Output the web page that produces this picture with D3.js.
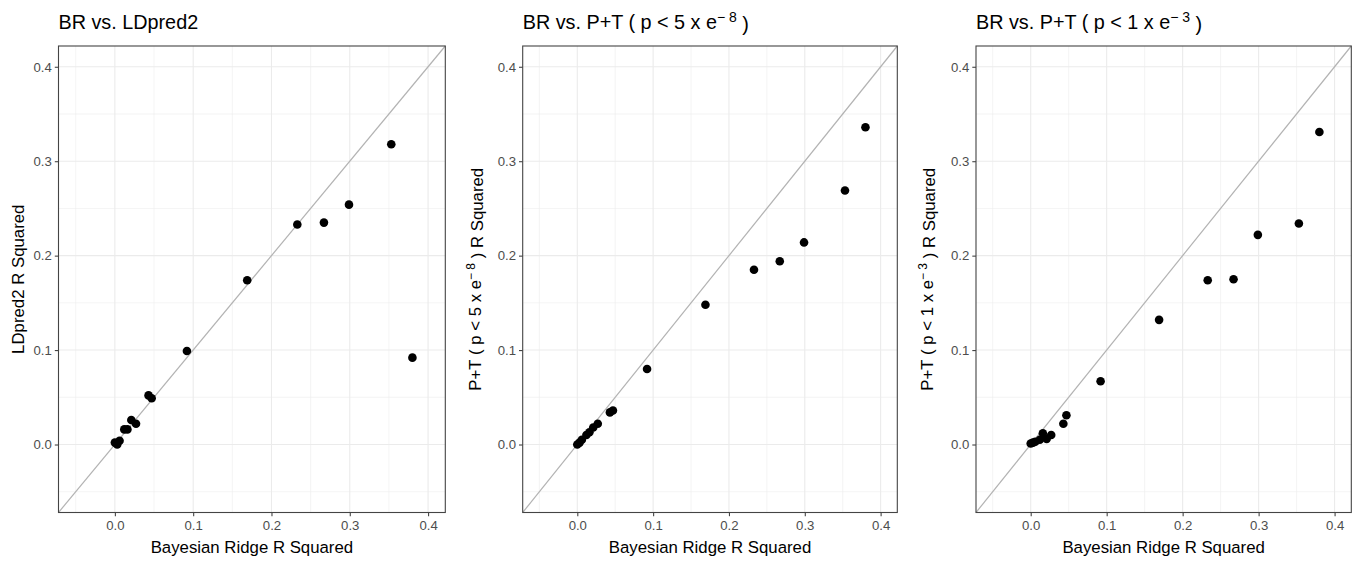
<!DOCTYPE html>
<html>
<head>
<meta charset="utf-8">
<script src="https://cdn.jsdelivr.net/npm/d3@7"></script>
<style>
	body { margin: 0; background: #fff; }
	svg { font-family: "Liberation Sans", Arial, sans-serif; }
</style>
</head>
<body>
<div id="chart"></div>
<script>
// Bayesian ridge R squared (x for every panel)
var brR2 = [0.000, 0.003, 0.006, 0.012, 0.016, 0.021, 0.027, 0.043, 0.047, 0.092, 0.169, 0.233, 0.267, 0.299, 0.353, 0.380];
var ldpred2R2 = [0.002, 0.000, 0.004, 0.016, 0.016, 0.026, 0.022, 0.052, 0.049, 0.099, 0.174, 0.233, 0.235, 0.254, 0.318, 0.092];
var pt8R2 = [0.000, 0.002, 0.005, 0.010, 0.013, 0.018, 0.022, 0.034, 0.036, 0.080, 0.148, 0.185, 0.194, 0.214, 0.269, 0.336];
var pt3R2 = [0.001, 0.002, 0.003, 0.005, 0.012, 0.006, 0.010, 0.022, 0.031, 0.067, 0.132, 0.174, 0.175, 0.222, 0.234, 0.331];

var tickValues = [0.0, 0.1, 0.2, 0.3, 0.4];
var minorTicks = [-0.05, 0.05, 0.15, 0.25, 0.35];
var axisLimits = [-0.072, 0.422];
var xTitle = "Bayesian Ridge R Squared";

// title parts: [before superscript, superscript, after]
var panels = [
	{ title: ["BR vs. LDpred2", "", ""], ytitle: ["LDpred2 R Squared", "", ""], y: ldpred2R2,
	  left: 58.5, right: 445.3, ytx: 23.5 },
	{ title: ["BR vs. P+T ( p < 5 x e", "\u2212 8", " )"], ytitle: ["P+T ( p < 5 x e", "\u2212 8", " ) R Squared"], y: pt8R2,
	  left: 522.7, right: 897.3, ytx: 481 },
	{ title: ["BR vs. P+T ( p < 1 x e", "\u2212 3", " )"], ytitle: ["P+T ( p < 1 x e", "\u2212 3", " ) R Squared"], y: pt3R2,
	  left: 976, right: 1351.3, ytx: 933 }
];

var width = 1358, height = 562;
var plotTop = 46, plotBottom = 512.5;

var svg = d3.select("#chart").append("svg")
	.attr("width", width)
	.attr("height", height);

function addMathText(sel, parts, supSize) {
	sel.append("tspan").text(parts[0]);
	if (parts[1]) {
		sel.append("tspan").attr("dy", "-0.5em").attr("font-size", supSize).text(parts[1]);
		sel.append("tspan").attr("dy", "0.5em").text(parts[2]);
	}
}

panels.forEach(function(p) {
	var x = d3.scaleLinear().domain(axisLimits).range([p.left, p.right]);
	var y = d3.scaleLinear().domain(axisLimits).range([plotBottom, plotTop]);
	var g = svg.append("g");

	// grid
	g.selectAll(".minx").data(minorTicks).enter().append("line")
		.attr("x1", d => x(d)).attr("x2", d => x(d)).attr("y1", plotTop).attr("y2", plotBottom)
		.attr("stroke", "#ececec").attr("stroke-width", 0.6);
	g.selectAll(".miny").data(minorTicks).enter().append("line")
		.attr("y1", d => y(d)).attr("y2", d => y(d)).attr("x1", p.left).attr("x2", p.right)
		.attr("stroke", "#ececec").attr("stroke-width", 0.6);
	g.selectAll(".majx").data(tickValues).enter().append("line")
		.attr("x1", d => x(d)).attr("x2", d => x(d)).attr("y1", plotTop).attr("y2", plotBottom)
		.attr("stroke", "#ebebeb").attr("stroke-width", 1.1);
	g.selectAll(".majy").data(tickValues).enter().append("line")
		.attr("y1", d => y(d)).attr("y2", d => y(d)).attr("x1", p.left).attr("x2", p.right)
		.attr("stroke", "#ebebeb").attr("stroke-width", 1.1);

	// identity line, corner to corner
	g.append("line")
		.attr("x1", x(axisLimits[0])).attr("y1", y(axisLimits[0]))
		.attr("x2", x(axisLimits[1])).attr("y2", y(axisLimits[1]))
		.attr("stroke", "#b3b3b3").attr("stroke-width", 1.2);

	g.selectAll(".pt").data(brR2).enter().append("circle")
		.attr("cx", d => x(d))
		.attr("cy", (d, i) => y(p.y[i]))
		.attr("r", 4.3)
		.attr("fill", "#000");

	g.append("rect")
		.attr("x", p.left).attr("y", plotTop)
		.attr("width", p.right - p.left).attr("height", plotBottom - plotTop)
		.attr("fill", "none").attr("stroke", "#444").attr("stroke-width", 1.1);

	// axes
	var xAxis = d3.axisBottom(x).tickValues(tickValues).tickSize(3.7).tickPadding(4).tickFormat(d3.format(".1f"));
	var yAxis = d3.axisLeft(y).tickValues(tickValues).tickSize(3.7).tickPadding(3).tickFormat(d3.format(".1f"));

	var gx = g.append("g").attr("transform", "translate(0," + plotBottom + ")").call(xAxis);
	var gy = g.append("g").attr("transform", "translate(" + p.left + ",0)").call(yAxis);
	[gx, gy].forEach(function(a) {
		a.attr("font-size", 13.2).attr("font-family", "Liberation Sans, Arial, sans-serif");
		a.select(".domain").remove();
		a.selectAll(".tick line").attr("stroke", "#444").attr("stroke-width", 1.1);
		a.selectAll(".tick text").attr("fill", "#4d4d4d");
	});

	// titles
	var t = g.append("text").attr("x", p.left).attr("y", 28.5)
		.attr("font-size", 19.8).attr("fill", "#000");
	addMathText(t, p.title, 14);

	g.append("text")
		.attr("x", (p.left + p.right) / 2).attr("y", 552.5)
		.attr("text-anchor", "middle").attr("font-size", 16.8).attr("fill", "#000")
		.text(xTitle);

	var yt = g.append("text")
		.attr("transform", "translate(" + p.ytx + "," + ((plotTop + plotBottom) / 2) + ") rotate(-90)")
		.attr("text-anchor", "middle").attr("font-size", 16.8).attr("fill", "#000");
	addMathText(yt, p.ytitle, 12);
});
</script>
</body>
</html>
